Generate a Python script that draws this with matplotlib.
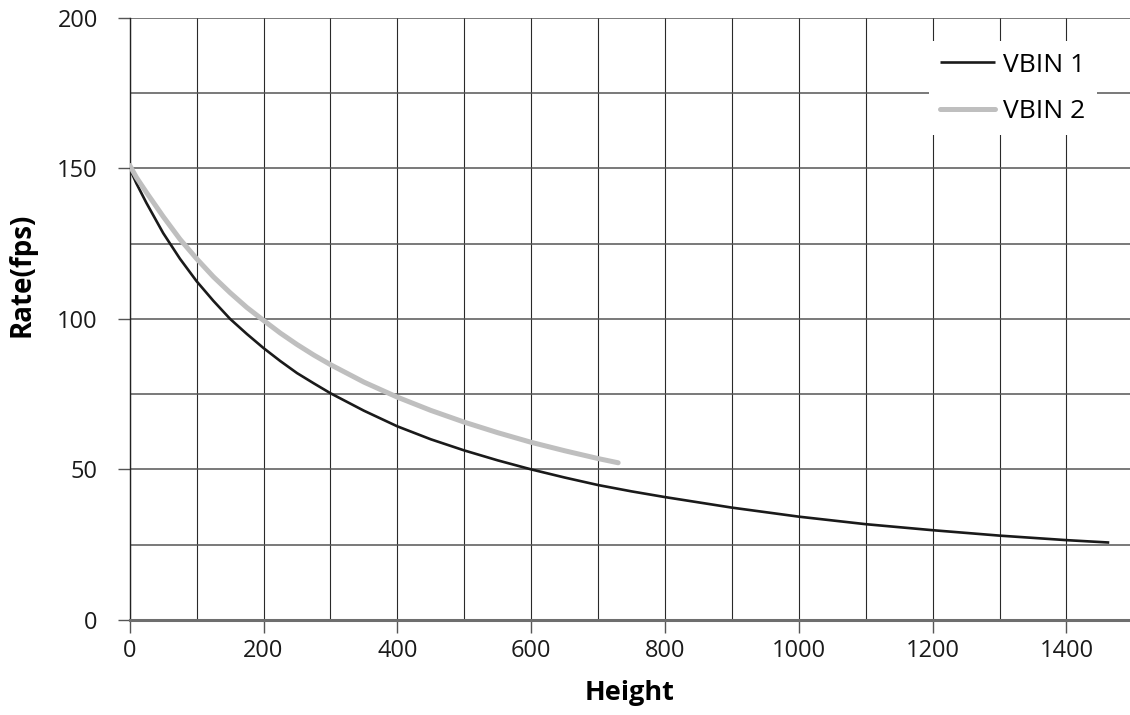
import matplotlib
matplotlib.use("Agg")
import matplotlib.pyplot as plt
from matplotlib.ticker import MultipleLocator

# values
vbin1_h = [0, 10, 25, 50, 75, 100, 125, 150, 175, 200, 225, 250, 275, 300,
           350, 400, 450, 500, 550, 600, 650, 700, 750, 800, 900, 1000, 1100,
           1200, 1300, 1400, 1464]
vbin1_rate = [150, 145, 138.5, 128.5, 120, 112.5, 106, 100, 95, 90.3, 86,
              82, 78.6, 75.3, 69.5, 64.3, 60, 56.3, 53, 50, 47.3, 44.8, 42.7,
              40.8, 37.3, 34.3, 31.8, 29.8, 28.0, 26.5, 25.7]

vbin2_h = [0, 10, 25, 50, 75, 100, 125, 150, 175, 200, 225, 250, 275, 300,
           350, 400, 450, 500, 550, 600, 650, 700, 730]
vbin2_rate = [151, 147, 142, 134, 126.5, 120, 114, 108.7, 103.8, 99.5, 95.3,
              91.5, 88, 84.8, 79, 74, 69.6, 65.7, 62.2, 59, 56.2, 53.6, 52.2]

xticks = [0, 200, 400, 600, 800, 1000, 1200, 1400]
yticks = [0, 50, 100, 150, 200]

plt.rcParams['font.family'] = ['Open Sans', 'DejaVu Sans']

fig = plt.figure(figsize=(11.3, 7.15), dpi=100)
ax = fig.add_axes([0.1148, 0.133, 0.8852, 0.842])

ax.plot(vbin1_h, vbin1_rate, color='#1a1a1a', lw=1.9, label='VBIN 1',
        solid_capstyle='butt', solid_joinstyle='round', zorder=3)
ax.plot(vbin2_h, vbin2_rate, color='#bfbfbf', lw=3.6, label='VBIN 2',
        solid_capstyle='round', solid_joinstyle='round', zorder=3)

ax.set_xlim(0, 1495)
ax.set_ylim(0, 200)
ax.set_xticks(xticks)
ax.set_yticks(yticks)
ax.xaxis.set_minor_locator(MultipleLocator(100))
ax.yaxis.set_minor_locator(MultipleLocator(25))

ax.grid(True, which='both', axis='x', color='#2a2a2a', lw=0.8)
ax.grid(True, which='both', axis='y', color='#555555', lw=1.1)
ax.set_axisbelow(True)

for s in ['top', 'right']:
    ax.spines[s].set_visible(False)
ax.spines['left'].set_color('#222222')
ax.spines['left'].set_linewidth(1.0)
ax.spines['bottom'].set_color('#6e6e6e')
ax.spines['bottom'].set_linewidth(2.2)
ax.spines['bottom'].set_zorder(4)

ax.tick_params(axis='both', which='major', direction='out', length=9,
               width=1.0, color='#555555', labelsize=17, labelcolor='#1a1a1a')
ax.tick_params(axis='x', which='major', pad=5)
ax.tick_params(axis='y', which='major', pad=14)
ax.tick_params(which='minor', length=0)

ax.set_xlabel('Height', fontsize=19.5, fontweight='bold', labelpad=12)
ax.set_ylabel('Rate(fps)', fontsize=20, fontweight='bold')
ax.yaxis.set_label_coords(-0.0927, 0.573)

leg = ax.legend(loc='upper left', bbox_to_anchor=(0.822, 0.942),
                bbox_transform=fig.transFigure, fontsize=19,
                frameon=True, fancybox=False, framealpha=1,
                facecolor='white', edgecolor='none', handlelength=2.1,
                handletextpad=0.3, labelspacing=0.82, borderpad=0.42,
                borderaxespad=0)
leg.set_zorder(5)

fig.savefig('out.png', dpi=100)
